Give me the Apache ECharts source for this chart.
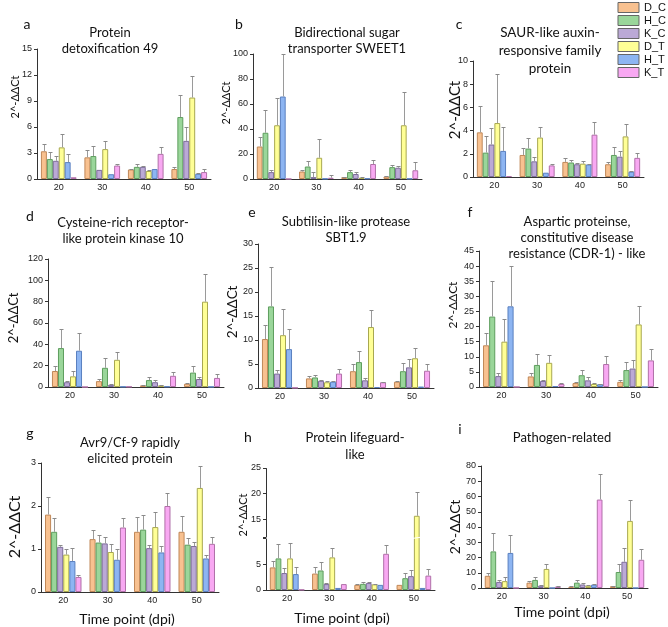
<!DOCTYPE html>
<html><head><meta charset="utf-8">
<script src="https://cdn.jsdelivr.net/npm/echarts@6/dist/echarts.min.js"></script>
<style>html,body{margin:0;padding:0;background:#fff}#c{width:668px;height:627px}</style>
</head><body><div id="c"></div><script>
// ---------- DATA ----------
const categories = ['20', '30', '40', '50'];
const seriesNames = ['D_C', 'H_C', 'K_C', 'D_T', 'H_T', 'K_T'];
// rows: D_C, H_C, K_C, D_T, H_T, K_T ; cols: 20, 30, 40, 50 dpi
const aMean = [[3.2,2.5,1.1,1.15],[2.3,2.65,1.4,7.15],[2.1,1.05,1.4,4.4],[3.65,3.45,0.92,9.4],[1.95,0.55,1.15,0.6],[0.2,1.55,2.9,0.8]];
const aErr  = [[0.8,0.85,0.1,0.25],[0.85,1.15,0.3,2.5],[0.5,0,0.05,1.55],[1.55,0.95,0.13,2.45],[0.9,0,0,0.15],[0,0.15,0.75,0.3]];
const bMean = [[26,6,1.5,2],[37,10,5.5,9.5],[5.5,1.5,4,9],[43,17,1,43],[66,0.3,0.5,0.3],[0,1,12,7]];
const bErr  = [[8,1,0.5,0.5],[18,4.5,2,1.5],[1.5,4,1.5,1.5],[22,15,0.5,27],[34,0,0,0],[0,2.5,3.5,7]];
const cMean = [[3.85,1.9,1.3,1.1],[2.1,2.45,1.25,1.9],[2.8,1.35,1.1,1.75],[4.65,3.4,1.15,3.5],[2.25,0.37,1.08,0.45],[0.08,1.0,3.65,1.65]];
const cErr  = [[2.25,0.6,0.3,0.2],[1.45,0.95,0.2,0.65],[1.45,0.35,0.15,0.5],[4.2,0.9,0.25,1.1],[2.05,0,0.07,0.1],[0,0.15,1.05,0.45]];
const dMean = [[15,5.5,1.5,3],[36.5,18,6.5,13.5],[4.5,2,4.5,7.5],[10,25.5,1.5,80],[34,0.3,0.5,0.2],[0,0.3,10.5,8.5]];
const dErr  = [[4.5,2,0.5,0.5],[17.5,9,3,6.5],[1,0.5,2,2],[5,7.5,0.5,26],[16.5,0,0,0],[0,0,3.5,3.5]];
const eMean = [[10.2,2,3.5,1.3],[17,2.2,5.4,3.5],[3,1.5,1.6,4.3],[11,1.2,12.7,6.2],[8.1,1.3,0.2,0.3],[0.05,3,1.2,3.6]];
const eErr  = [[3,0.4,1.5,0.2],[8.3,0.6,2.4,1.7],[0.7,0.2,0.5,1.8],[5.4,0.3,3.5,2.2],[4.1,0.1,0,0],[0,0.9,0.1,1.4]];
const fMean = [[13.8,3.5,1.3,1.7],[23.3,7.3,3.9,5.6],[3.6,2,2.2,6.1],[15,8,1,20.7],[26.7,0.3,0.9,0],[0,1,7.6,8.8]];
const fErr  = [[4,1.2,0.4,0.5],[11.7,3.7,1.7,2.7],[1,0.3,1.2,2.9],[7.4,2.5,0.3,6],[13.3,0,0.1,0],[0,0.2,2.7,3.8]];
const gMean = [[1.8,1.23,1.4,1.4],[1.4,1.15,1.45,1.1],[1.05,1.13,1.02,1.07],[0.87,0.93,1.51,2.42],[0.72,0.75,0.92,0.78],[0.35,1.5,2.0,1.12]];
const gErr  = [[0.42,0.22,0.34,0.36],[0.32,0.17,0.33,0.15],[0.05,0.14,0.07,0.09],[0.13,0.19,0.36,0.52],[0.3,0.24,0.15,0.07],[0.04,0.22,0.3,0.17]];
const hMean = [[4.4,3.2,1.0,1.0],[6.15,3.8,1.2,2.3],[3.3,1.15,1.35,2.7],[6.15,6.35,1.1,15.7],[3.1,0.4,1.0,0.4],[0.05,1.15,7.05,2.8]];
const hErr  = [[1.2,1.35,0.15,0],[2.85,1.6,0.3,1.0],[0.9,0.15,0.15,1.1],[3.05,1.75,0.05,4.6],[1.45,0,0,0],[0,0,1.8,1.2]];
const iMean = [[8,3.5,0.8,1.2],[24,5.3,3.5,10.5],[4,1.5,2.3,17.2],[4.5,12.5,1.5,44],[23,0,2.2,0],[0,1,58,18.5]];
const iErr  = [[2,1.2,0.2,0.3],[12,2.2,1.5,5.5],[1.5,0.5,0.9,8.8],[2.5,3.5,0.5,13.5],[11.5,0,0.3,0],[0,0.3,16.5,7]];
const yMax  = [15, 100, 10, 120, 30, 45, 3, 25, 80];
const yStep = [3, 20, 2, 20, 5, 5, 1, 5, 10];
const hTickLabels = ['0', '5', '15', '20', '25'];
const hBreak = [10, 11.6];
const panelLetters = ['a','b','c','d','e','f','g','h','i'];
const panelTitles = [
  ['Protein', 'detoxification 49'],
  ['Bidirectional sugar', 'transporter SWEET1'],
  ['SAUR-like auxin-', 'responsive family', 'protein'],
  ['Cysteine-rich receptor-', 'like protein kinase 10'],
  ['Subtilisin-like protease', 'SBT1.9'],
  ['Aspartic proteinse,', 'constitutive disease', 'resistance (CDR-1) - like'],
  ['Avr9/Cf-9 rapidly', 'elicited protein'],
  ['Protein lifeguard-', 'like'],
  ['Pathogen-related']
];
const yAxisTitle = '2^-ΔΔCt';
const xAxisTitle = 'Time point (dpi)';
const means = [aMean,bMean,cMean,dMean,eMean,fMean,gMean,hMean,iMean];
const errs  = [aErr,bErr,cErr,dErr,eErr,fErr,gErr,hErr,iErr];

// ---------- LAYOUT / STYLE ----------
const fills   = ['#F8C190','#9AD69A','#BBA9D6','#FFFF96','#8DB5F2','#F8A8F2'];
const borders = ['#C08858','#5E9E5E','#7D6D9A','#A8A850','#5A80C0','#B070A8'];
const GAP = 0.18;
const FONT = 'Lato, "Liberation Sans", Arial, sans-serif';
const TICKFONT = '"Liberation Sans", Arial, sans-serif';
const layout = [
  {grid:[37,49,174,130],  letter:[27,24],  title:[110,33,16,13], yName:[15,97,11]},
  {grid:[253,54,169,125], letter:[239,24], title:[347,33,16,13], yName:[226,103,11]},
  {grid:[473,61,171,116], letter:[459,24], title:[550,33,18,13.5], yName:[455,110,15]},
  {grid:[48,259,176,128], letter:[30,216], title:[123,223,16,13], yName:[14,318,13]},
  {grid:[258,244,176,144],letter:[252,212],title:[346,222,16,13], yName:[233,312,13.5]},
  {grid:[479,251,179,136],letter:[470,212],title:[577,222,16,13], yName:[453,305,12]},
  {grid:[41,463,178,129], letter:[30,433], title:[130,443,16,13], yName:[15,527,16]},
  {grid:[266,468,169,122],letter:[248,437],title:[355,438,17,13], yName:[243,515,11]},
  {grid:[481,466,167,122],letter:[460,429],title:[562,438,16,13], yName:[455,527,14]}
];
const xNames = {6:[127,619], 7:[342,618], 8:[562,612]};

const grids = [], xAxes = [], yAxes = [], series = [], graphics = [];
layout.forEach((L, p) => {
  grids.push({left:L.grid[0], top:L.grid[1], width:L.grid[2], height:L.grid[3], outerBoundsMode:'none', containLabel:false});
  xAxes.push({type:'category', gridIndex:p, data:categories,
    axisLine:{lineStyle:{color:'#333', width:1}}, axisTick:{show:false},
    axisLabel:{fontSize:9, color:'#222', margin:4, fontFamily:TICKFONT}});
  const y = {type:'value', gridIndex:p, min:0, max:yMax[p], interval:yStep[p],
    splitLine:{show:false},
    axisLine:{show:true, lineStyle:{color:'#333', width:1}},
    axisTick:{show:true, length:3, lineStyle:{color:'#333'}},
    axisLabel:{fontSize:9, color:'#222', margin:5, fontFamily:TICKFONT}};
  if (p === 7) {
    // break in the axis between 10 and 11.6; zero-width helper break so that 15 keeps its label
    y.breaks = [{start:hBreak[0], end:hBreak[1], gap:0.35}, {start:14.999, end:15, gap:0}];
    y.breakArea = {show:true, itemStyle:{color:'#fff', borderColor:'#fff', borderWidth:0, opacity:1},
      zigzagAmplitude:0.8, zigzagZ:100, expandOnClick:false};
    y.breakLabelLayout = {moveOverlap:false};
    y.axisLabel.hideOverlap = false;
    y.axisLabel.formatter = v => hTickLabels.indexOf(String(v)) >= 0 ? String(v) : '';
  }
  yAxes.push(y);
  seriesNames.forEach((nm, k) => {
    series.push({type:'bar', name:nm, xAxisIndex:p, yAxisIndex:p, data:means[p][k],
      barGap:'0%', barCategoryGap:(GAP*100)+'%',
      itemStyle:{color:fills[k], borderColor:borders[k], borderWidth:1},
      emphasis:{disabled:true}, silent:true, z:2});
  });
  const ed = [];
  means[p].forEach((row, k) => row.forEach((v, ci) => {
    const e = errs[p][k][ci];
    if (e > 0) ed.push([ci, v, v + e, k]);
  }));
  series.push({type:'custom', xAxisIndex:p, yAxisIndex:p, data:ed, z:5, silent:true,
    encode:{x:0, y:[1,2]},
    renderItem(params, api) {
      const ci = api.value(0), v = api.value(1), t = api.value(2), k = api.value(3);
      const band = api.size([1, 0])[0];
      const bw = band * (1 - GAP) / 6;
      const p0 = api.coord([ci, v]), p1 = api.coord([ci, t]);
      const x = Math.round(p0[0] + (k - 2.5) * bw) + 0.5;
      const yt = Math.round(p1[1]) + 0.5;
      return {type:'group', children:[
        {type:'line', shape:{x1:x, y1:p0[1], x2:x, y2:yt}, style:{stroke:'#9a9a9a', lineWidth:1}},
        {type:'line', shape:{x1:x-2, y1:yt, x2:x+2, y2:yt}, style:{stroke:'#8a8a8a', lineWidth:1}}
      ]};
    }});
  // texts
  graphics.push({type:'text', x:L.letter[0], y:L.letter[1],
    style:{text:panelLetters[p], fontSize:14, fontFamily:FONT, fill:'#111', align:'center', verticalAlign:'middle'}});
  panelTitles[p].forEach((line, j) => {
    graphics.push({type:'text', x:L.title[0], y:L.title[1] + j * L.title[2],
      style:{text:line, fontSize:L.title[3], fontFamily:FONT, fill:'#111', align:'center', verticalAlign:'middle'}});
  });
  graphics.push({type:'text', x:L.yName[0], y:L.yName[1], rotation:Math.PI/2,
    style:{text:yAxisTitle, fontSize:L.yName[2], fontFamily:FONT, fill:'#111', align:'center', verticalAlign:'middle'}});
  if (xNames[p]) {
    graphics.push({type:'text', x:xNames[p][0], y:xNames[p][1],
      style:{text:xAxisTitle, fontSize:14, fontFamily:FONT, fill:'#111', align:'center', verticalAlign:'middle'}});
  }
});

const chart = echarts.init(document.getElementById('c'), null, {renderer:'canvas'});
chart.setOption({
  animation:false,
  backgroundColor:'#fff',
  grid:grids, xAxis:xAxes, yAxis:yAxes, series:series,
  legend:{data:seriesNames, orient:'vertical', right:2, top:2, itemWidth:21, itemHeight:10, itemGap:2,
    icon:'rect', selectedMode:false, padding:0,
    itemStyle:{borderColor:'#666', borderWidth:1},
    textStyle:{fontSize:11, fontFamily:TICKFONT, color:'#111', lineHeight:10}},
  graphic:graphics
});
</script></body></html>
